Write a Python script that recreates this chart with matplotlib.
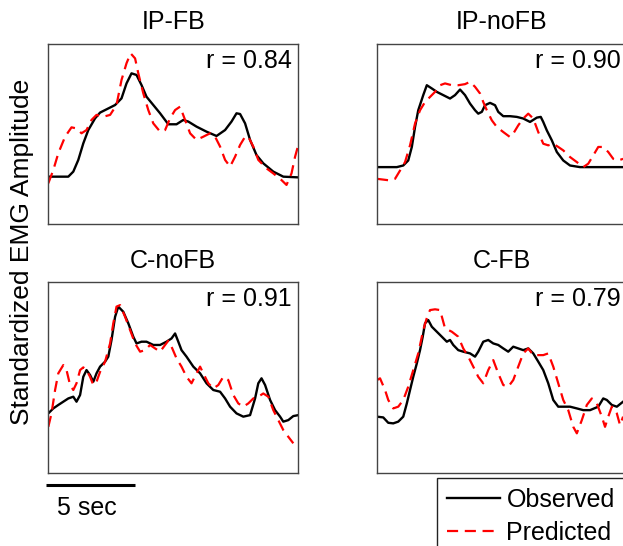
import matplotlib
matplotlib.use("Agg")
import matplotlib.pyplot as plt
from matplotlib.lines import Line2D

plt.rcParams['font.family'] = ['Liberation Sans', 'DejaVu Sans']

titles = ["IP-FB", "IP-noFB", "C-noFB", "C-FB"]
r_values = [0.84, 0.90, 0.91, 0.79]
ylabel = "Standardized EMG Amplitude"
legend_labels = ["Observed", "Predicted"]
scale_bar_sec = 5
t_window = 14.0

# ---- IP-FB ----
t_obs_1 = [0, 1.12, 1.4, 1.68, 1.96, 2.24, 2.62, 2.9, 3.26, 3.74, 4.1, 4.38, 4.66, 4.94, 5.22, 5.5,
           5.88, 6.26, 6.72, 7.18, 7.56, 7.84, 8.3, 8.86, 9.42, 9.9, 10.26, 10.54, 10.74, 11.02,
           11.3, 11.66, 12.04, 12.6, 13.16, 14.0]
y_obs_1 = [26.3, 26.3, 29.1, 35.6, 44.8, 52.2, 58.7, 61.9, 63.7, 66.1, 69.8, 78.1, 83.7, 82.8, 77.2,
           70.7, 66.1, 61.5, 55.4, 55.4, 57.8, 56.9, 54.1, 51.3, 48.9, 52.2, 56.9, 61.5, 61.1, 55.9,
           46.7, 38.3, 33.7, 29.1, 26.3, 25.9]
t_pred_1 = [0, 0.28, 0.56, 0.94, 1.3, 1.58, 1.86, 2.14, 2.42, 2.7, 3.08, 3.46, 3.82, 4.1, 4.38, 4.61,
            4.86, 5.04, 5.32, 5.6, 5.88, 6.26, 6.54, 6.82, 7.1, 7.38, 7.66, 7.94, 8.3, 8.68, 9.06,
            9.34, 9.62, 9.9, 10.18, 10.46, 10.74, 11.02, 11.2, 11.48, 11.76, 12.22, 12.6, 13.06,
            13.34, 13.62, 13.82, 14.0]
y_pred_1 = [22.6, 30.0, 39.3, 48.5, 53.7, 53.1, 50.4, 52.2, 57.8, 60.6, 59.6, 60.6, 66.1, 80.0, 89.3,
            94.8, 92.0, 83.7, 72.6, 63.3, 55.9, 51.3, 52.2, 58.7, 63.3, 65.2, 57.8, 50.4, 46.7, 48.5,
            50.4, 48.5, 43.0, 35.6, 31.9, 37.4, 43.9, 48.5, 48.5, 43.0, 35.6, 30.9, 28.1, 24.4, 21.7,
            28.1, 37.4, 43.9]

# ---- IP-noFB ----
t_obs_2 = [0, 1.11, 1.47, 1.75, 1.95, 2.13, 2.31, 2.59, 2.79, 3.07, 3.35, 3.71, 4.09, 4.37, 4.65,
           4.93, 5.21, 5.49, 5.67, 5.87, 6.05, 6.33, 6.61, 6.79, 7.07, 7.45, 7.83, 8.19, 8.57, 8.95,
           9.17, 9.31, 9.51, 9.79, 10.07, 10.43, 10.81, 11.37, 12.67, 13.78, 14.0]
y_obs_2 = [31.6, 31.6, 32.5, 35.3, 42.8, 53.9, 63.2, 71.6, 77.1, 75.3, 73.4, 71.6, 69.7, 71.6, 74.7,
           71.6, 66.9, 63.2, 61.3, 62.3, 66.0, 67.3, 66.0, 62.3, 59.9, 59.9, 59.5, 58.6, 56.7, 59.1,
           59.5, 56.7, 52.0, 46.5, 40.0, 35.3, 32.5, 31.6, 31.6, 31.6, 31.6]
t_pred_2 = [0, 0.73, 1.01, 1.29, 1.57, 1.85, 2.13, 2.41, 2.69, 2.97, 3.25, 3.53, 3.81, 4.19, 4.55,
            4.93, 5.21, 5.49, 5.77, 5.95, 6.15, 6.43, 6.71, 7.07, 7.45, 7.63, 7.91, 8.19, 8.47, 8.75,
            9.03, 9.31, 9.59, 9.87, 10.15, 10.43, 10.81, 11.19, 11.55, 11.83, 12.11, 12.39, 12.67,
            12.95, 13.23, 13.51, 13.78]
y_pred_2 = [25.1, 24.2, 25.1, 29.7, 34.4, 43.7, 55.8, 63.2, 67.8, 70.6, 73.4, 77.1, 78.1, 77.1, 77.1,
            77.7, 79.0, 76.2, 72.5, 67.8, 63.2, 57.6, 53.9, 51.1, 48.3, 50.2, 54.8, 58.6, 61.3, 58.6,
            51.1, 44.6, 43.7, 44.6, 42.8, 40.9, 37.2, 34.4, 31.6, 33.5, 38.1, 42.8, 42.8, 40.0, 36.2,
            35.3, 36.2]

# ---- C-noFB ----
t_obs_3 = [0, 0.28, 0.56, 0.84, 1.12, 1.4, 1.58, 1.78, 1.96, 2.14, 2.34, 2.52, 2.7, 2.9, 3.18, 3.36,
           3.54, 3.74, 3.92, 4.2, 4.48, 4.76, 4.94, 5.22, 5.5, 5.88, 6.26, 6.62, 6.9, 7.1, 7.28, 7.46,
           7.74, 8.12, 8.5, 8.86, 9.24, 9.62, 9.9, 10.18, 10.54, 10.92, 11.3, 11.58, 11.76, 11.94,
           12.14, 12.42, 12.7, 12.98, 13.16, 13.44, 13.72, 14.0]
y_obs_3 = [31.3, 33.9, 35.7, 37.4, 39.1, 40.0, 37.4, 40.9, 50.4, 53.9, 51.3, 47.8, 52.2, 55.7, 58.3,
           60.9, 69.6, 81.7, 87.0, 84.3, 78.3, 71.3, 67.8, 68.7, 68.7, 67.0, 67.0, 68.7, 70.4, 73.0,
           68.7, 64.3, 60.9, 55.7, 52.2, 47.0, 43.5, 42.6, 39.1, 34.8, 31.3, 29.6, 30.4, 39.1, 47.0,
           49.6, 46.1, 38.3, 33.0, 29.6, 27.0, 27.8, 29.9, 30.4]
t_pred_3 = [0, 0.18, 0.38, 0.56, 0.84, 1.02, 1.22, 1.4, 1.58, 1.78, 1.96, 2.14, 2.34, 2.52, 2.7, 2.9,
            3.18, 3.46, 3.64, 3.82, 4.02, 4.3, 4.58, 4.86, 5.14, 5.42, 5.7, 5.98, 6.26, 6.54, 6.72,
            6.9, 7.18, 7.46, 7.74, 8.02, 8.3, 8.5, 8.68, 8.96, 9.24, 9.52, 9.8, 10.08, 10.36, 10.64,
            10.92, 11.2, 11.48, 11.76, 12.04, 12.32, 12.6, 12.88, 13.16, 13.44, 13.72]
y_pred_3 = [24.3, 31.3, 43.5, 52.2, 56.5, 53.9, 46.1, 43.5, 47.0, 53.9, 55.3, 53.9, 50.4, 46.1, 47.8,
            53.0, 58.3, 67.8, 78.3, 87.0, 87.8, 81.7, 74.8, 67.8, 63.5, 64.3, 67.0, 65.2, 63.5, 67.0,
            69.2, 66.1, 60.0, 55.7, 50.4, 47.0, 52.2, 55.7, 52.2, 47.0, 44.3, 46.1, 50.4, 48.7, 40.9,
            36.5, 34.8, 36.5, 39.1, 40.0, 41.7, 40.0, 33.0, 27.8, 22.6, 19.1, 15.7]

# ---- C-FB ----
t_obs_4 = [0, 0.35, 0.63, 0.91, 1.19, 1.47, 1.67, 1.85, 2.03, 2.23, 2.41, 2.56, 2.69, 2.87, 3.07,
           3.35, 3.63, 3.91, 4.09, 4.27, 4.55, 4.83, 5.21, 5.49, 5.67, 5.95, 6.23, 6.51, 6.79, 7.07,
           7.35, 7.63, 7.91, 8.19, 8.47, 8.75, 9.03, 9.31, 9.59, 9.87, 10.15, 10.53, 10.81, 11.19,
           11.55, 11.93, 12.39, 12.67, 12.87, 13.15, 13.43, 13.78]
y_obs_4 = [29.6, 29.2, 26.4, 26.1, 27.0, 29.6, 36.5, 43.5, 50.4, 57.4, 64.3, 71.3, 78.3, 80.0, 76.5,
           73.9, 71.3, 68.7, 69.6, 67.0, 64.3, 63.5, 62.6, 60.9, 63.5, 68.7, 69.6, 67.8, 67.0, 65.2,
           63.5, 66.1, 65.2, 64.3, 65.2, 62.6, 58.3, 53.9, 47.0, 38.3, 34.8, 34.8, 34.8, 33.9, 33.0,
           33.0, 34.8, 39.1, 38.3, 35.7, 34.8, 37.4]
t_pred_4 = [0, 0.17, 0.45, 0.63, 0.91, 1.19, 1.47, 1.75, 2.03, 2.31, 2.59, 2.81, 2.97, 3.25, 3.53,
            3.81, 4.19, 4.55, 4.83, 5.11, 5.39, 5.67, 5.95, 6.23, 6.51, 6.79, 7.07, 7.35, 7.63, 7.91,
            8.19, 8.47, 8.75, 9.03, 9.31, 9.59, 9.87, 10.15, 10.43, 10.71, 10.99, 11.19, 11.47,
            11.75, 12.03, 12.31, 12.59, 12.77, 12.95, 13.15, 13.43, 13.61, 13.78]
y_pred_4 = [48.7, 49.6, 43.5, 38.3, 33.9, 34.8, 38.3, 45.2, 53.9, 62.6, 74.8, 81.7, 85.2, 85.6, 85.2,
            75.7, 73.9, 71.3, 65.2, 60.9, 55.7, 50.4, 47.0, 53.9, 59.1, 52.2, 46.1, 45.2, 48.7, 55.7,
            62.6, 65.2, 61.7, 61.7, 61.7, 62.6, 55.7, 47.0, 38.3, 33.0, 24.3, 20.9, 27.8, 35.7, 39.1,
            36.5, 29.6, 24.3, 29.6, 34.8, 31.3, 25.2, 29.6]

obs_t = [t_obs_1, t_obs_2, t_obs_3, t_obs_4]
obs_y = [y_obs_1, y_obs_2, y_obs_3, y_obs_4]
pred_t = [t_pred_1, t_pred_2, t_pred_3, t_pred_4]
pred_y = [y_pred_1, y_pred_2, y_pred_3, y_pred_4]

W, H = 623, 546
fig = plt.figure(figsize=(W / 100, H / 100), dpi=100)

# panel rectangles in pixels: (left, top, width, height)
rects = [(48.3, 44, 250, 180), (377, 44, 250, 180),
         (48.3, 281.7, 250, 191.7), (377, 281.7, 250, 191.7)]
title_base = [1.082, 1.082, 1.071, 1.071]
r_base = [0.865, 0.865, 0.873, 0.873]

FS = 18
DASH = (5, 3)
axes = []
for i, (l, t, w, h) in enumerate(rects):
    ax = fig.add_axes([l / W, 1 - (t + h) / H, w / W, h / H])
    ax.plot(obs_t[i], obs_y[i], color='black', lw=1.7, solid_joinstyle='round')
    ax.plot(pred_t[i], pred_y[i], color='#ff0000', lw=1.6, dashes=DASH)
    ax.set_xlim(0, t_window)
    ax.set_ylim(0, 100)
    ax.set_xticks([])
    ax.set_yticks([])
    for s in ax.spines.values():
        s.set_color('#444444')
        s.set_linewidth(1.0)
    ax.text(0.5, title_base[i], titles[i], transform=ax.transAxes, ha='center',
            va='baseline', fontsize=FS)
    ax.text(0.975, r_base[i], f"r = {r_values[i]:.2f}", transform=ax.transAxes,
            ha='right', va='baseline', fontsize=FS)
    axes.append(ax)

# y label
fig.text(22 / W, 1 - 252 / H, ylabel, rotation=90, ha='center', va='center', fontsize=19)

# scale bar on bottom-left panel
ax3 = axes[2]
trans = ax3.get_xaxis_transform()
bar_y = (473.3 - 485) / 191.7
ax3.plot([-0.13, -0.13 + scale_bar_sec], [bar_y, bar_y], color='black', lw=2.2,
         transform=trans, clip_on=False, solid_capstyle='butt')
ax3.text(0.49, (473.3 - 515) / 191.7, f"{scale_bar_sec} sec", transform=trans,
         ha='left', va='baseline', fontsize=FS)

# legend
handles = [Line2D([], [], color='black', lw=1.7),
           Line2D([], [], color='#ff0000', lw=1.6, dashes=DASH)]
leg = fig.legend(handles, legend_labels, loc='upper left',
                 bbox_to_anchor=(437 / W, 1 - 478 / H), fontsize=FS,
                 frameon=True, fancybox=False, framealpha=1, edgecolor='#222222',
                 handlelength=2.1, handletextpad=0.28, borderpad=0.4,
                 labelspacing=0.35, borderaxespad=0)
leg.get_frame().set_linewidth(1.0)

fig.savefig("out.png", dpi=100)
